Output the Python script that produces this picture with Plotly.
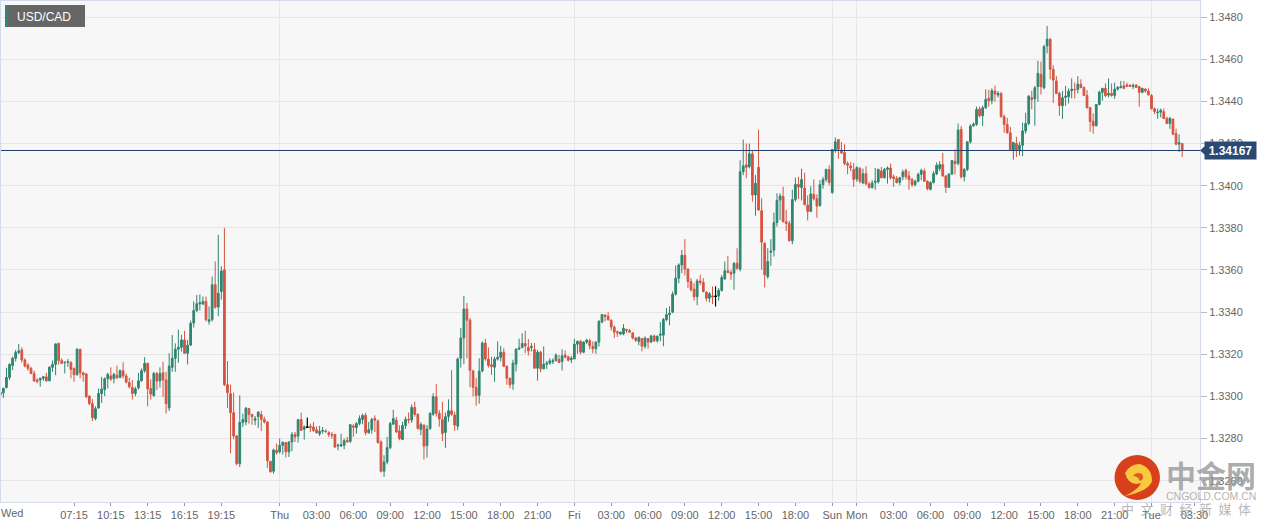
import plotly.graph_objects as go

open_ = [
1.33006,1.33017,1.33042,1.33090,1.33147,1.33181,1.33209,1.33221,1.33173,1.33149,
1.33133,1.33109,1.33078,1.33078,1.33086,1.33093,1.33074,1.33138,1.33152,1.33252,
1.33170,1.33160,1.33162,1.33162,1.33132,1.33103,1.33224,1.33112,1.33106,1.33001,
1.32966,1.32895,1.32945,1.33014,1.33033,1.33084,1.33097,1.33084,1.33100,1.33090,
1.33122,1.33097,1.33066,1.33042,1.33014,1.33041,1.33074,1.33122,1.33157,1.33038,
1.33004,1.33109,1.33073,1.33112,1.33078,1.32945,1.33138,1.33181,1.33224,1.33233,
1.33268,1.33205,1.33244,1.33348,1.33408,1.33439,1.33438,1.33451,1.33356,1.33364,
1.33530,1.33424,1.33498,1.33601,1.33056,1.33013,1.32923,1.32812,1.32681,1.32876,
1.32879,1.32942,1.32914,1.32887,1.32904,1.32914,1.32891,1.32879,1.32692,1.32645,
1.32744,1.32737,1.32768,1.32781,1.32737,1.32784,1.32819,1.32812,1.32890,1.32844,
1.32853,1.32858,1.32855,1.32842,1.32823,1.32835,1.32836,1.32828,1.32819,1.32819,
1.32765,1.32765,1.32768,1.32792,1.32787,1.32860,1.32852,1.32871,1.32891,1.32910,
1.32828,1.32842,1.32895,1.32884,1.32784,1.32645,1.32689,1.32757,1.32868,1.32887,
1.32836,1.32796,1.32862,1.32891,1.32888,1.32948,1.32915,1.32843,1.32864,1.32767,
1.32848,1.32915,1.32999,1.32920,1.32890,1.32829,1.32905,1.32932,1.32912,1.32859,
1.33181,1.33277,1.33415,1.33362,1.33121,1.33043,1.33005,1.33121,1.33253,1.33177,
1.33150,1.33139,1.33177,1.33186,1.33210,1.33143,1.33086,1.33059,1.33153,1.33224,
1.33232,1.33251,1.33232,1.33232,1.33223,1.33134,1.33210,1.33131,1.33153,1.33158,
1.33164,1.33170,1.33175,1.33166,1.33196,1.33188,1.33174,1.33178,1.33248,1.33261,
1.33210,1.33258,1.33264,1.33237,1.33226,1.33258,1.33353,1.33386,1.33381,1.33361,
1.33329,1.33307,1.33296,1.33296,1.33318,1.33312,1.33301,1.33277,1.33261,1.33275,
1.33238,1.33275,1.33258,1.33287,1.33264,1.33290,1.33291,1.33365,1.33388,1.33400,
1.33485,1.33561,1.33624,1.33670,1.33604,1.33545,1.33509,1.33473,1.33548,1.33541,
1.33495,1.33466,1.33477,1.33474,1.33476,1.33503,1.33558,1.33596,1.33588,1.33585,
1.33632,1.33604,1.34066,1.34099,1.34090,1.34151,1.33956,1.34087,1.33881,1.33727,
1.33569,1.33684,1.33694,1.33825,1.33932,1.33949,1.33829,1.33821,1.33739,1.33934,
1.34006,1.33991,1.33989,1.33908,1.33878,1.33959,1.33938,1.33907,1.34005,1.34029,
1.34077,1.33967,1.34169,1.34219,1.34169,1.34157,1.34105,1.34094,1.34077,1.34032,
1.34081,1.34013,1.34057,1.34008,1.33991,1.34016,1.34018,1.34070,1.34038,1.34078,
1.34084,1.34042,1.34034,1.34015,1.34042,1.34073,1.34045,1.34029,1.34005,1.34021,
1.34054,1.34070,1.34021,1.33983,1.34015,1.34056,1.34081,1.34100,1.34046,1.33992,
1.34056,1.34116,1.34105,1.34267,1.34042,1.34077,1.34208,1.34284,1.34291,1.34364,
1.34332,1.34370,1.34415,1.34403,1.34449,1.34430,1.34438,1.34327,1.34290,1.34251,
1.34168,1.34200,1.34171,1.34192,1.34260,1.34295,1.34417,1.34412,1.34470,1.34528,
1.34465,1.34663,1.34695,1.34552,1.34497,1.34438,1.34379,1.34419,1.34422,1.34451,
1.34457,1.34457,1.34481,1.34466,1.34428,1.34371,1.34305,1.34284,1.34385,1.34443,
1.34462,1.34430,1.34438,1.34428,1.34458,1.34465,1.34474,1.34478,1.34476,1.34471,
1.34478,1.34470,1.34443,1.34458,1.34449,1.34428,1.34365,1.34346,1.34349,1.34351,
1.34320,1.34295,1.34316,1.34247,1.34197,1.34200]

close = [
1.33020,1.33038,1.33090,1.33152,1.33181,1.33209,1.33216,1.33173,1.33144,1.33133,
1.33109,1.33073,1.33071,1.33086,1.33093,1.33074,1.33138,1.33152,1.33249,1.33170,
1.33157,1.33162,1.33165,1.33128,1.33103,1.33224,1.33112,1.33103,1.32998,1.32966,
1.32899,1.32942,1.33014,1.33035,1.33084,1.33105,1.33082,1.33105,1.33090,1.33122,
1.33097,1.33068,1.33046,1.33014,1.33036,1.33074,1.33122,1.33157,1.33036,1.33011,
1.33109,1.33073,1.33109,1.33078,1.32966,1.33144,1.33181,1.33224,1.33233,1.33268,
1.33205,1.33243,1.33347,1.33408,1.33440,1.33445,1.33451,1.33364,1.33364,1.33530,
1.33424,1.33490,1.33595,1.33056,1.33018,1.32923,1.32812,1.32681,1.32876,1.32890,
1.32944,1.32914,1.32904,1.32895,1.32926,1.32891,1.32879,1.32695,1.32642,1.32746,
1.32733,1.32768,1.32782,1.32737,1.32784,1.32819,1.32808,1.32890,1.32839,1.32855,
1.32855,1.32852,1.32839,1.32828,1.32835,1.32838,1.32833,1.32819,1.32816,1.32760,
1.32768,1.32771,1.32790,1.32784,1.32866,1.32854,1.32871,1.32895,1.32910,1.32828,
1.32842,1.32890,1.32887,1.32781,1.32645,1.32689,1.32757,1.32871,1.32895,1.32831,
1.32800,1.32862,1.32891,1.32888,1.32948,1.32915,1.32848,1.32867,1.32764,1.32845,
1.32920,1.32999,1.32920,1.32893,1.32824,1.32904,1.32932,1.32915,1.32864,1.33177,
1.33277,1.33415,1.33362,1.33124,1.33043,1.33005,1.33120,1.33253,1.33177,1.33147,
1.33142,1.33177,1.33186,1.33210,1.33143,1.33086,1.33055,1.33158,1.33224,1.33229,
1.33251,1.33239,1.33216,1.33237,1.33134,1.33210,1.33131,1.33153,1.33158,1.33169,
1.33169,1.33196,1.33161,1.33193,1.33186,1.33172,1.33181,1.33248,1.33261,1.33210,
1.33258,1.33267,1.33240,1.33226,1.33258,1.33356,1.33388,1.33380,1.33364,1.33329,
1.33305,1.33301,1.33304,1.33324,1.33313,1.33305,1.33277,1.33266,1.33280,1.33238,
1.33277,1.33258,1.33287,1.33264,1.33285,1.33296,1.33365,1.33388,1.33395,1.33485,
1.33561,1.33624,1.33670,1.33604,1.33545,1.33506,1.33473,1.33548,1.33541,1.33498,
1.33466,1.33487,1.33473,1.33476,1.33503,1.33564,1.33596,1.33588,1.33580,1.33632,
1.33608,1.34066,1.34094,1.34087,1.34151,1.33956,1.34011,1.33885,1.33732,1.33577,
1.33640,1.33690,1.33825,1.33930,1.33951,1.33829,1.33821,1.33739,1.33934,1.34006,
1.33994,1.34029,1.33910,1.33878,1.33961,1.33938,1.33903,1.34005,1.34029,1.34077,
1.34015,1.34172,1.34208,1.34173,1.34156,1.34105,1.34097,1.34084,1.34029,1.34086,
1.34021,1.34057,1.34008,1.33991,1.34013,1.34021,1.34077,1.34038,1.34078,1.34084,
1.34038,1.34034,1.34015,1.34038,1.34065,1.34042,1.34029,1.34005,1.34021,1.34054,
1.34072,1.34021,1.33986,1.34015,1.34057,1.34097,1.34100,1.34046,1.33992,1.34056,
1.34119,1.34105,1.34264,1.34042,1.34077,1.34208,1.34283,1.34292,1.34362,1.34332,
1.34370,1.34410,1.34403,1.34451,1.34435,1.34438,1.34327,1.34290,1.34251,1.34171,
1.34205,1.34171,1.34192,1.34260,1.34295,1.34425,1.34409,1.34465,1.34533,1.34470,
1.34660,1.34695,1.34552,1.34501,1.34438,1.34381,1.34417,1.34425,1.34449,1.34458,
1.34455,1.34482,1.34466,1.34428,1.34370,1.34305,1.34284,1.34385,1.34444,1.34462,
1.34427,1.34438,1.34428,1.34458,1.34466,1.34471,1.34462,1.34471,1.34471,1.34476,
1.34466,1.34443,1.34462,1.34449,1.34431,1.34365,1.34352,1.34349,1.34358,1.34319,
1.34295,1.34319,1.34244,1.34197,1.34205,1.34167]

high = [
1.33025,1.33042,1.33136,1.33157,1.33189,1.33221,1.33249,1.33233,1.33181,1.33157,
1.33141,1.33122,1.33086,1.33089,1.33097,1.33112,1.33144,1.33170,1.33252,1.33254,
1.33181,1.33165,1.33178,1.33165,1.33138,1.33228,1.33225,1.33117,1.33112,1.33006,
1.32987,1.32953,1.33038,1.33093,1.33090,1.33112,1.33138,1.33112,1.33146,1.33128,
1.33162,1.33109,1.33089,1.33078,1.33046,1.33112,1.33133,1.33186,1.33160,1.33081,
1.33117,1.33117,1.33138,1.33165,1.33117,1.33205,1.33292,1.33252,1.33316,1.33292,
1.33311,1.33268,1.33360,1.33451,1.33481,1.33484,1.33474,1.33474,1.33427,1.33569,
1.33640,1.33767,1.33618,1.33800,1.33168,1.33056,1.33018,1.32816,1.33005,1.32918,
1.32950,1.32945,1.32918,1.32907,1.32929,1.32931,1.32904,1.32882,1.32692,1.32752,
1.32776,1.32800,1.32787,1.32784,1.32787,1.32831,1.32831,1.32890,1.32923,1.32863,
1.32899,1.32871,1.32879,1.32858,1.32860,1.32855,1.32844,1.32835,1.32831,1.32823,
1.32776,1.32823,1.32800,1.32808,1.32868,1.32868,1.32879,1.32910,1.32918,1.32923,
1.32879,1.32899,1.32910,1.32890,1.32792,1.32721,1.32808,1.32879,1.32937,1.32902,
1.32863,1.32880,1.32904,1.32924,1.32962,1.32975,1.32920,1.32877,1.32867,1.32864,
1.32924,1.33015,1.33058,1.32935,1.32975,1.32924,1.32986,1.33124,1.32927,1.33185,
1.33324,1.33477,1.33443,1.33372,1.33126,1.33086,1.33181,1.33261,1.33274,1.33232,
1.33189,1.33189,1.33261,1.33240,1.33229,1.33147,1.33089,1.33174,1.33229,1.33274,
1.33300,1.33312,1.33272,1.33253,1.33253,1.33221,1.33216,1.33237,1.33169,1.33181,
1.33181,1.33204,1.33197,1.33224,1.33218,1.33193,1.33193,1.33274,1.33266,1.33269,
1.33261,1.33274,1.33274,1.33261,1.33261,1.33362,1.33391,1.33391,1.33400,1.33367,
1.33337,1.33312,1.33309,1.33343,1.33321,1.33321,1.33305,1.33283,1.33285,1.33277,
1.33285,1.33277,1.33293,1.33293,1.33290,1.33353,1.33372,1.33419,1.33427,1.33498,
1.33621,1.33632,1.33695,1.33746,1.33608,1.33561,1.33537,1.33558,1.33577,1.33561,
1.33498,1.33495,1.33522,1.33522,1.33514,1.33577,1.33640,1.33667,1.33601,1.33637,
1.33703,1.34121,1.34219,1.34200,1.34200,1.34164,1.34050,1.34266,1.33940,1.33732,
1.33703,1.33746,1.33872,1.33964,1.33964,1.33995,1.33885,1.33834,1.33981,1.34038,
1.34042,1.34081,1.34062,1.33954,1.33997,1.34030,1.33959,1.34026,1.34042,1.34081,
1.34097,1.34172,1.34229,1.34219,1.34208,1.34197,1.34116,1.34113,1.34108,1.34092,
1.34089,1.34081,1.34092,1.34018,1.34026,1.34084,1.34081,1.34089,1.34084,1.34092,
1.34105,1.34054,1.34046,1.34042,1.34076,1.34081,1.34069,1.34037,1.34029,1.34062,
1.34081,1.34081,1.34026,1.34021,1.34069,1.34110,1.34116,1.34156,1.34050,1.34057,
1.34121,1.34172,1.34295,1.34283,1.34084,1.34211,1.34292,1.34300,1.34375,1.34375,
1.34380,1.34457,1.34454,1.34462,1.34475,1.34449,1.34444,1.34338,1.34322,1.34279,
1.34208,1.34232,1.34208,1.34300,1.34346,1.34430,1.34451,1.34473,1.34593,1.34589,
1.34668,1.34758,1.34700,1.34571,1.34520,1.34446,1.34449,1.34473,1.34462,1.34509,
1.34490,1.34520,1.34505,1.34470,1.34454,1.34374,1.34343,1.34387,1.34451,1.34462,
1.34485,1.34509,1.34485,1.34489,1.34473,1.34497,1.34497,1.34489,1.34482,1.34485,
1.34481,1.34473,1.34465,1.34463,1.34462,1.34435,1.34371,1.34366,1.34366,1.34366,
1.34327,1.34327,1.34319,1.34271,1.34243,1.34203]

low = [
1.33003,1.32993,1.33038,1.33078,1.33125,1.33165,1.33201,1.33160,1.33138,1.33122,
1.33105,1.33070,1.33062,1.33046,1.33074,1.33070,1.33073,1.33117,1.33101,1.33151,
1.33154,1.33109,1.33141,1.33086,1.33070,1.33098,1.33086,1.33070,1.32993,1.32958,
1.32883,1.32887,1.32942,1.32969,1.33001,1.33038,1.33074,1.33062,1.33081,1.33086,
1.33086,1.33062,1.33038,1.32985,1.33001,1.33033,1.33070,1.33112,1.32953,1.32985,
1.32998,1.33030,1.33042,1.32998,1.32919,1.32931,1.33117,1.33117,1.33160,1.33213,
1.33202,1.33152,1.33239,1.33327,1.33400,1.33408,1.33435,1.33356,1.33340,1.33356,
1.33416,1.33381,1.33459,1.33049,1.32945,1.32729,1.32797,1.32673,1.32665,1.32855,
1.32863,1.32871,1.32866,1.32863,1.32850,1.32836,1.32871,1.32661,1.32639,1.32634,
1.32724,1.32729,1.32724,1.32710,1.32713,1.32740,1.32784,1.32781,1.32836,1.32795,
1.32852,1.32831,1.32831,1.32823,1.32812,1.32823,1.32828,1.32808,1.32800,1.32756,
1.32744,1.32760,1.32749,1.32781,1.32779,1.32808,1.32823,1.32863,1.32868,1.32816,
1.32823,1.32823,1.32831,1.32776,1.32639,1.32618,1.32678,1.32749,1.32866,1.32828,
1.32792,1.32793,1.32845,1.32872,1.32875,1.32904,1.32843,1.32816,1.32701,1.32710,
1.32840,1.32908,1.32904,1.32856,1.32788,1.32756,1.32880,1.32908,1.32837,1.32840,
1.33137,1.33153,1.33181,1.33043,1.32999,1.32956,1.32966,1.33115,1.33169,1.33137,
1.33102,1.33070,1.33170,1.33166,1.33140,1.33055,1.33039,1.33032,1.33118,1.33221,
1.33229,1.33205,1.33194,1.33213,1.33131,1.33075,1.33115,1.33129,1.33131,1.33150,
1.33154,1.33166,1.33159,1.33123,1.33181,1.33166,1.33158,1.33177,1.33202,1.33200,
1.33205,1.33248,1.33223,1.33205,1.33202,1.33237,1.33347,1.33356,1.33359,1.33312,
1.33277,1.33282,1.33290,1.33290,1.33301,1.33302,1.33271,1.33258,1.33242,1.33214,
1.33227,1.33227,1.33253,1.33258,1.33255,1.33261,1.33238,1.33356,1.33337,1.33395,
1.33479,1.33537,1.33585,1.33574,1.33514,1.33498,1.33454,1.33432,1.33530,1.33493,
1.33451,1.33446,1.33438,1.33427,1.33454,1.33498,1.33553,1.33585,1.33553,1.33506,
1.33601,1.33593,1.34050,1.34035,1.34082,1.33924,1.33858,1.33880,1.33601,1.33517,
1.33558,1.33620,1.33664,1.33806,1.33837,1.33826,1.33785,1.33735,1.33722,1.33924,
1.33937,1.33930,1.33907,1.33835,1.33875,1.33930,1.33848,1.33899,1.33986,1.34018,
1.34002,1.33962,1.34156,1.34129,1.34150,1.34097,1.34054,1.34069,1.33994,1.34018,
1.34010,1.34007,1.34002,1.33986,1.33986,1.33981,1.34010,1.34034,1.34034,1.34010,
1.34029,1.33994,1.34010,1.34002,1.34026,1.34029,1.33981,1.33994,1.33997,1.34015,
1.34026,1.34018,1.33978,1.33977,1.34010,1.34050,1.34069,1.34042,1.33965,1.33989,
1.34050,1.34053,1.34097,1.34034,1.34021,1.34069,1.34200,1.34280,1.34284,1.34324,
1.34284,1.34364,1.34375,1.34386,1.34399,1.34419,1.34324,1.34251,1.34247,1.34168,
1.34124,1.34136,1.34143,1.34140,1.34247,1.34287,1.34362,1.34285,1.34398,1.34433,
1.34457,1.34628,1.34505,1.34393,1.34435,1.34332,1.34317,1.34379,1.34390,1.34414,
1.34414,1.34438,1.34462,1.34425,1.34366,1.34255,1.34247,1.34282,1.34382,1.34403,
1.34420,1.34419,1.34422,1.34412,1.34451,1.34462,1.34457,1.34470,1.34470,1.34458,
1.34465,1.34374,1.34438,1.34441,1.34428,1.34362,1.34339,1.34317,1.34324,1.34316,
1.34292,1.34270,1.34240,1.34192,1.34160,1.34136]

black_bars = [100, 233]

y_ticks = [1.3260, 1.3280, 1.3300, 1.3320, 1.3340, 1.3360, 1.3380, 1.3400, 1.3420, 1.3440, 1.3460, 1.3480]
x_ticks = [24, 36, 48, 60, 72, 91, 103, 115, 127, 139, 151, 163, 175, 187, 199, 211, 223, 235, 247, 259,
           271, 279, 291, 303, 315, 327, 339, 351, 363, 375, 389]
x_labels = ["07:15", "10:15", "13:15", "16:15", "19:15", "Thu", "03:00", "06:00", "09:00", "12:00", "15:00",
            "18:00", "21:00", "Fri", "03:00", "06:00", "09:00", "12:00", "15:00", "18:00",
            "Sun", "Mon", "03:00", "06:00", "09:00", "12:00", "15:00", "18:00", "21:00", "Tue", "03:30"]
day_starts = [91, 187, 271, 279, 375]
last_price = 1.34167
symbol = "USD/CAD"

GREEN, RED, NAVY = "#2f8570", "#d55441", "#2a4a75"
W, H = 1271, 527
ML, MR, MT, MB = 1, 71, 1, 25


def px(x):
    return (x - ML) / (W - ML - MR)


def py(y):
    return (H - MB - y) / (H - MT - MB)


n = len(close)
idx = list(range(n))
fig = go.Figure()
fig.add_trace(go.Candlestick(
    x=idx, open=open_, high=high, low=low, close=close, hoverinfo="skip", showlegend=False,
    whiskerwidth=0,
    increasing=dict(line=dict(color=GREEN, width=1), fillcolor=GREEN),
    decreasing=dict(line=dict(color=RED, width=1), fillcolor=RED)))
fig.add_trace(go.Candlestick(
    x=black_bars,
    open=[open_[i] for i in black_bars], high=[high[i] for i in black_bars],
    low=[low[i] for i in black_bars], close=[close[i] for i in black_bars],
    hoverinfo="skip", showlegend=False, whiskerwidth=0,
    increasing=dict(line=dict(color="#000000", width=1), fillcolor="#000000"),
    decreasing=dict(line=dict(color="#000000", width=1), fillcolor="#000000")))

axis_line = "#d3daec"
shapes = [
    dict(type="line", xref="paper", x0=0, x1=1, yref="y", y0=last_price, y1=last_price,
         line=dict(color="#1f3f6e", width=1)),
    # price tag pointer
    dict(type="path", xref="paper", yref="paper",
         path=f"M {px(1200)} {py(150.5)} L {px(1205)} {py(146)} L {px(1205)} {py(155)} Z",
         fillcolor=NAVY, line=dict(width=0)),
    # symbol badge
    dict(type="rect", xref="paper", yref="paper", x0=px(5), x1=px(85), y0=py(27), y1=py(5),
         fillcolor="#666666", line=dict(width=0)),
    dict(type="rect", xref="paper", yref="paper", x0=px(5), x1=px(8), y0=py(27), y1=py(5),
         fillcolor=GREEN, line=dict(width=0)),
    # watermark logo
    dict(type="circle", xref="paper", yref="paper", x0=px(1114.5), x1=px(1160), y0=py(500), y1=py(455),
         fillcolor="#d8401b", line=dict(width=0)),
    dict(type="path", xref="paper", yref="paper",
         path=(f"M {px(1125)} {py(473)} Q {px(1130)} {py(464)} {px(1140)} {py(464)} "
               f"Q {px(1152)} {py(468)} {px(1152)} {py(481)} Q {px(1149)} {py(491)} {px(1125)} {py(496)} "
               f"Q {px(1139)} {py(489)} {px(1141)} {py(483)} Q {px(1129)} {py(487)} {px(1125)} {py(473)} Z"),
         fillcolor="#f8c840", line=dict(width=0)),
    dict(type="path", xref="paper", yref="paper",
         path=(f"M {px(1133)} {py(476)} Q {px(1136)} {py(471)} {px(1142)} {py(474)} "
               f"Q {px(1145)} {py(479)} {px(1140)} {py(481)} Q {px(1138)} {py(476)} {px(1133)} {py(476)} Z"),
         fillcolor="#dd5a20", line=dict(width=0)),
]

FONT = "Liberation Sans, Arial, sans-serif"


def note(x, y, text, size, color, family=FONT, xanchor="center", **kw):
    return dict(xref="paper", yref="paper", x=px(x), y=py(y), xanchor=xanchor, yanchor="middle",
                text=text, showarrow=False, font=dict(family=family, size=size, color=color), **kw)


annotations = [
    note(44, 16.5, symbol, 12, "#ffffff"),
    note(1, 513, "Wed", 11, "#666666", xanchor="left", xshift=-2),
    dict(xref="paper", yref="y", x=px(1204), xanchor="left", y=last_price, yanchor="middle",
         text=f"<b>{last_price:.5f}</b>", showarrow=False, bgcolor=NAVY, borderpad=2, width=47, height=13,
         align="center", font=dict(family=FONT, size=12, color="#ffffff")),
    note(1211, 474, "<b>中金网</b>", 30, "rgba(150,150,150,0.8)", family="Noto Sans CJK SC"),
    note(1211, 496, "CNGOLD.COM.CN", 10.5, "rgba(170,170,170,0.9)"),
    note(1186, 509, "中\u2002文\u2002财\u2002经\u2002新\u2002媒\u2002体", 13, "rgba(150,150,150,0.7)",
         family="Noto Sans CJK SC"),
]

fig.update_layout(
    width=W, height=H, margin=dict(l=ML, r=MR, t=MT, b=MB, pad=0),
    paper_bgcolor="#ffffff", plot_bgcolor="#f7f7f7", showlegend=False, boxgap=0.2,
    shapes=shapes, annotations=annotations, hovermode=False,
    font=dict(family=FONT, size=11, color="#666666"),
    xaxis=dict(range=[0.22, 390.8], rangeslider=dict(visible=False), tickmode="array",
               tickvals=x_ticks, ticktext=x_labels, ticks="outside", ticklen=3, tickcolor="#999999",
               showgrid=False, zeroline=False, showline=True, linecolor=axis_line, mirror=True,
               tickangle=0, tickfont=dict(family=FONT, size=11, color="#666666"),
               minor=dict(tickmode="array", tickvals=day_starts, showgrid=True, gridcolor="#e6e6e6",
                          gridwidth=1, ticks="")),
    yaxis=dict(range=[1.32499, 1.348764], side="right", tickmode="array", tickvals=y_ticks,
               tickformat=".4f", ticks="outside", ticklen=6, tickcolor="#bbbbbb",
               showgrid=True, gridcolor="#e6e6e6", gridwidth=1, zeroline=False,
               showline=True, linecolor=axis_line, mirror=True,
               tickfont=dict(family=FONT, size=11, color="#666666")),
)

fig.write_html("out.html", post_script="document.body.style.margin='0';document.body.style.overflow='hidden';",
               config={"displayModeBar": False})
